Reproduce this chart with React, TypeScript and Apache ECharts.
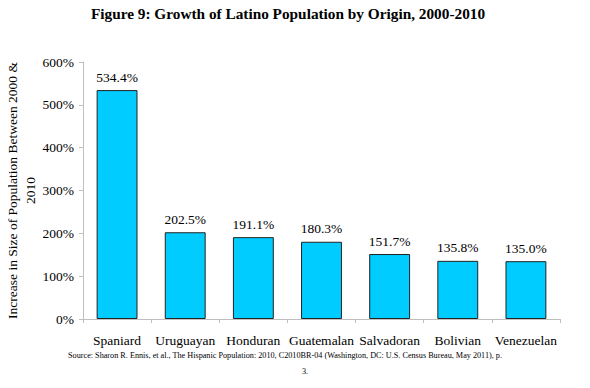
import React, { useEffect, useRef } from "react";
import * as echarts from "echarts";

const categories = ["Spaniard", "Uruguayan", "Honduran", "Guatemalan", "Salvadoran", "Bolivian", "Venezuelan"];
const values = [534.4, 202.5, 191.1, 180.3, 151.7, 135.8, 135.0];
const yTicks = [0, 100, 200, 300, 400, 500, 600];

const FONT = "Liberation Serif";

export default function App() {
  const ref = useRef<HTMLDivElement>(null);
  useEffect(() => {
    if (!ref.current) return;
    const chart = echarts.init(ref.current, null, { renderer: "svg" });
    chart.setOption({
      animation: false,
      backgroundColor: "#ffffff",
      textStyle: { fontFamily: FONT, color: "#000" },
      title: {
        text: "Figure 9: Growth of Latino Population by Origin, 2000-2010",
        left: 283,
        textAlign: "center",
        top: 1,
        textStyle: { fontFamily: FONT, fontSize: 15.3, fontWeight: "bold", color: "#000" },
      },
      grid: { left: 83, right: 30, top: 62, bottom: 69, outerBoundsMode: "none", containLabel: false },
      xAxis: {
        type: "category",
        data: categories,
        axisLine: { lineStyle: { color: "#bfbfbf" } },
        axisTick: { show: true, alignWithLabel: false, length: 4, lineStyle: { color: "#bfbfbf" } },
        axisLabel: { fontFamily: FONT, fontSize: 13.5, color: "#000", margin: 14, interval: 0 },
      },
      yAxis: {
        type: "value",
        min: yTicks[0],
        max: yTicks[yTicks.length - 1],
        interval: 100,
        name: "Increase in Size of Population Between 2000 &\n2010",
        nameLocation: "middle",
        nameGap: 44,
        nameMoveOverlap: false,
        nameTextStyle: { fontFamily: FONT, fontSize: 13.5, color: "#000", lineHeight: 18 },
        axisLine: { show: true, lineStyle: { color: "#bfbfbf" } },
        axisTick: { show: true, length: 4, lineStyle: { color: "#bfbfbf" } },
        splitLine: { show: false },
        axisLabel: { fontFamily: FONT, fontSize: 13.5, color: "#000", margin: 9, formatter: "{value}%" },
      },
      series: [
        {
          type: "bar",
          data: values,
          barWidth: "60%",
          itemStyle: { color: "#00CCFF", borderColor: "#222", borderWidth: 1 },
          label: {
            show: true,
            position: "top",
            distance: 6,
            fontFamily: FONT,
            fontSize: 13.5,
            color: "#000",
            formatter: (p: any) => p.value.toFixed(1) + "%",
          },
        },
      ],
      graphic: [
        {
          type: "text",
          x: 285,
          y: 355,
          style: {
            text: "Source: Sharon R. Ennis, et al., The Hispanic Population: 2010, C2010BR-04 (Washington, DC: U.S. Census Bureau, May 2011), p.",
            fontFamily: FONT,
            fontSize: 8.2,
            fill: "#000",
            align: "center",
            verticalAlign: "middle",
          },
        },
        {
          type: "text",
          x: 305,
          y: 371,
          style: {
            text: "3.",
            fontFamily: FONT,
            fontSize: 8.2,
            fill: "#000",
            align: "center",
            verticalAlign: "middle",
          },
        },
      ],
    });
    return () => chart.dispose();
  }, []);
  return <div ref={ref} style={{ width: 590, height: 388, margin: -8 }} />;
}
